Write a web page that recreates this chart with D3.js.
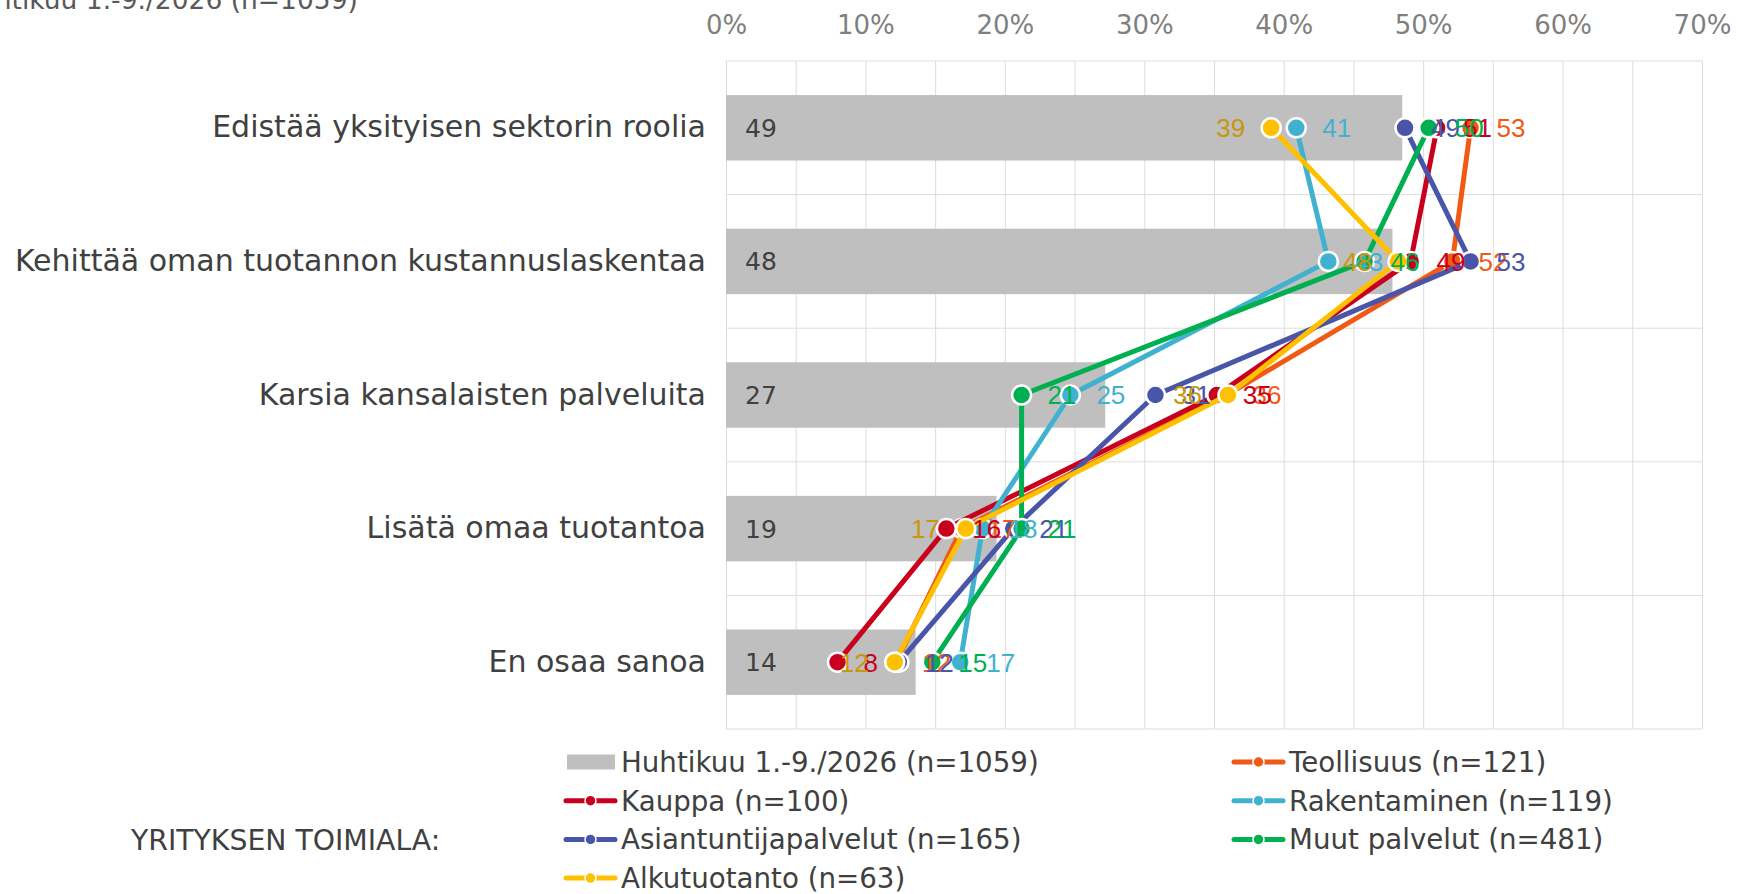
<!DOCTYPE html>
<html lang="fi">
<head>
<meta charset="UTF-8">
<title>Yrityksen toimiala</title>
<script src="https://cdn.jsdelivr.net/npm/d3@7"></script>
<style>
    body { margin: 0; background: #fff; }
    svg { display: block; font-family: "DejaVu Sans", Verdana, sans-serif; }
</style>
</head>
<body>
<script>
// data (percent)
var categories = ["Edistää yksityisen sektorin roolia", "Kehittää oman tuotannon kustannuslaskentaa",
    "Karsia kansalaisten palveluita", "Lisätä omaa tuotantoa", "En osaa sanoa"];
var kaikki       = [48.5, 47.8, 27.2, 19.4, 13.6];
var teollisuus   = [53.4, 52.1, 35.9, 16.9, 12.2];
var kauppa       = [51.0, 49.1, 35.2, 15.8, 8.0];
var rakentaminen = [40.9, 43.2, 24.7, 18.4, 16.8];
var asiantuntija = [48.7, 53.4, 30.8, 20.6, 12.4];
var muut         = [50.4, 45.8, 21.2, 21.2, 14.8];
var alkutuotanto = [39.1, 48.2, 36.0, 17.2, 12.1];
var tickValues = [0, 10, 20, 30, 40, 50, 60, 70];

var barName = "Huhtikuu 1.-9./2026 (n=1059)";
var seriesNames = ["Teollisuus (n=121)", "Kauppa (n=100)", "Rakentaminen (n=119)",
    "Asiantuntijapalvelut (n=165)", "Muut palvelut (n=481)", "Alkutuotanto (n=63)"];
var seriesValues = [teollisuus, kauppa, rakentaminen, asiantuntija, muut, alkutuotanto];
var seriesColors = ["#F05A14", "#C8001E", "#41B1D0", "#4855A8", "#00B050", "#FFC000"];
var labelColors  = ["#F05A14", "#C8001E", "#41B1D0", "#4855A8", "#00B050", "#C9960C"];

var width = 1737, height = 894;

var svg = d3.select("body").append("svg")
    .attr("width", width)
    .attr("height", height);

var x = d3.scaleLinear().domain([0, 70]).range([726, 1702]);
var y = d3.scaleBand().domain(categories).range([61, 729])
    .paddingInner(0.51).paddingOuter(0.255);
var bw = y.bandwidth();
function cy(c) { return y(c) + bw / 2; }

// title, cut at the top edge like in the original
svg.append("text")
    .attr("x", -42).attr("y", 9)
    .style("font-size", "26.5px").attr("fill", "#595959")
    .text(barName);

// vertical gridlines every 5 %
var grid = svg.append("g")
    .attr("transform", "translate(0,61)")
    .call(d3.axisBottom(x).tickValues(d3.range(0, 71, 5)).tickSize(668).tickFormat(""));
grid.select(".domain").remove();
grid.selectAll("line").attr("stroke", "#DDDDDD");

// horizontal lines between categories
svg.append("g").selectAll("line")
    .data(d3.range(categories.length + 1))
    .enter().append("line")
    .attr("x1", x(0)).attr("x2", x(70))
    .attr("y1", function (i) { return y.range()[0] + i * y.step(); })
    .attr("y2", function (i) { return y.range()[0] + i * y.step(); })
    .attr("stroke", "#DDDDDD");

// top axis labels
var topAxis = svg.append("g")
    .attr("transform", "translate(0,34)")
    .call(d3.axisTop(x).tickValues(tickValues).tickSize(0).tickPadding(0)
        .tickFormat(function (d) { return d + "%"; }));
topAxis.select(".domain").remove();
topAxis.selectAll("text")
    .style("font-family", "'DejaVu Sans', Verdana, sans-serif")
    .style("font-size", "26px").attr("fill", "#7F7F7F");

// category labels
var leftAxis = svg.append("g")
    .attr("transform", "translate(" + x(0) + ",0)")
    .call(d3.axisLeft(y).tickSize(0).tickPadding(20));
leftAxis.select(".domain").remove();
leftAxis.selectAll("text")
    .style("font-family", "'DejaVu Sans', Verdana, sans-serif")
    .style("font-size", "30px").attr("fill", "#404040");

// bars
svg.append("g").selectAll("rect")
    .data(categories)
    .enter().append("rect")
    .attr("x", x(0))
    .attr("y", function (c) { return y(c); })
    .attr("width", function (c, i) { return x(kaikki[i]) - x(0); })
    .attr("height", bw)
    .attr("fill", "#BFBFBF");

svg.append("g").selectAll("text")
    .data(categories)
    .enter().append("text")
    .attr("x", x(0) + 19)
    .attr("y", cy)
    .attr("dy", "0.36em")
    .style("font-size", "25px").attr("fill", "#404040")
    .text(function (c, i) { return Math.round(kaikki[i]); });

// lines with markers, one series after the other
var line = d3.line()
    .x(function (d) { return x(d.v); })
    .y(function (d) { return cy(d.c); });

seriesValues.forEach(function (vals, s) {
    var pts = categories.map(function (c, i) { return { c: c, v: vals[i] }; });
    var g = svg.append("g");
    g.append("path")
        .attr("d", line(pts))
        .attr("fill", "none")
        .attr("stroke", seriesColors[s])
        .attr("stroke-width", 5)
        .attr("stroke-linejoin", "round")
        .attr("stroke-linecap", "round");
    g.selectAll("circle")
        .data(pts)
        .enter().append("circle")
        .attr("cx", function (d) { return x(d.v); })
        .attr("cy", function (d) { return cy(d.c); })
        .attr("r", 9.5)
        .attr("fill", seriesColors[s])
        .attr("stroke", "#fff")
        .attr("stroke-width", 2.5);
});

// data labels on top; Alkutuotanto sits on the left side
seriesValues.forEach(function (vals, s) {
    var onLeft = s === seriesValues.length - 1;
    svg.append("g").selectAll("text")
        .data(categories)
        .enter().append("text")
        .attr("x", function (c, i) { return x(vals[i]) + (onLeft ? -26 : 26); })
        .attr("y", cy)
        .attr("dy", "0.36em")
        .attr("text-anchor", onLeft ? "end" : "start")
        .style("font-family", "'Liberation Sans', Arial, sans-serif")
        .style("font-size", "26px")
        .attr("fill", labelColors[s])
        .text(function (c, i) { return Math.round(vals[i]); });
});

// legend, filled row by row in two columns
var legendItems = [{ name: barName, bar: true }].concat(seriesNames.map(function (n, s) {
    return { name: n, color: seriesColors[s] };
}));
var colX = [564, 1232], rowY0 = 762, rowStep = 38.7;

var leg = svg.append("g").selectAll("g")
    .data(legendItems)
    .enter().append("g")
    .attr("transform", function (d, i) {
        return "translate(" + colX[i % 2] + "," + (rowY0 + Math.floor(i / 2) * rowStep) + ")";
    });

leg.filter(function (d) { return d.bar; }).append("rect")
    .attr("x", 3).attr("y", -7.5)
    .attr("width", 48).attr("height", 15)
    .attr("fill", "#BFBFBF");

var legLines = leg.filter(function (d) { return !d.bar; });
legLines.append("line")
    .attr("x1", 2).attr("x2", 51)
    .attr("stroke", function (d) { return d.color; })
    .attr("stroke-width", 5)
    .attr("stroke-linecap", "round");
legLines.append("circle")
    .attr("cx", 26.5).attr("r", 5.5)
    .attr("fill", function (d) { return d.color; })
    .attr("stroke", "#fff").attr("stroke-width", 1.5);

leg.append("text")
    .attr("x", 57)
    .attr("dy", "0.36em")
    .style("font-size", "27.7px").attr("fill", "#404040")
    .text(function (d) { return d.name; });

svg.append("text")
    .attr("x", 131).attr("y", rowY0 + 2 * rowStep)
    .attr("dy", "0.36em")
    .style("font-size", "28.3px").attr("fill", "#404040")
    .text("YRITYKSEN TOIMIALA:");
</script>
</body>
</html>
